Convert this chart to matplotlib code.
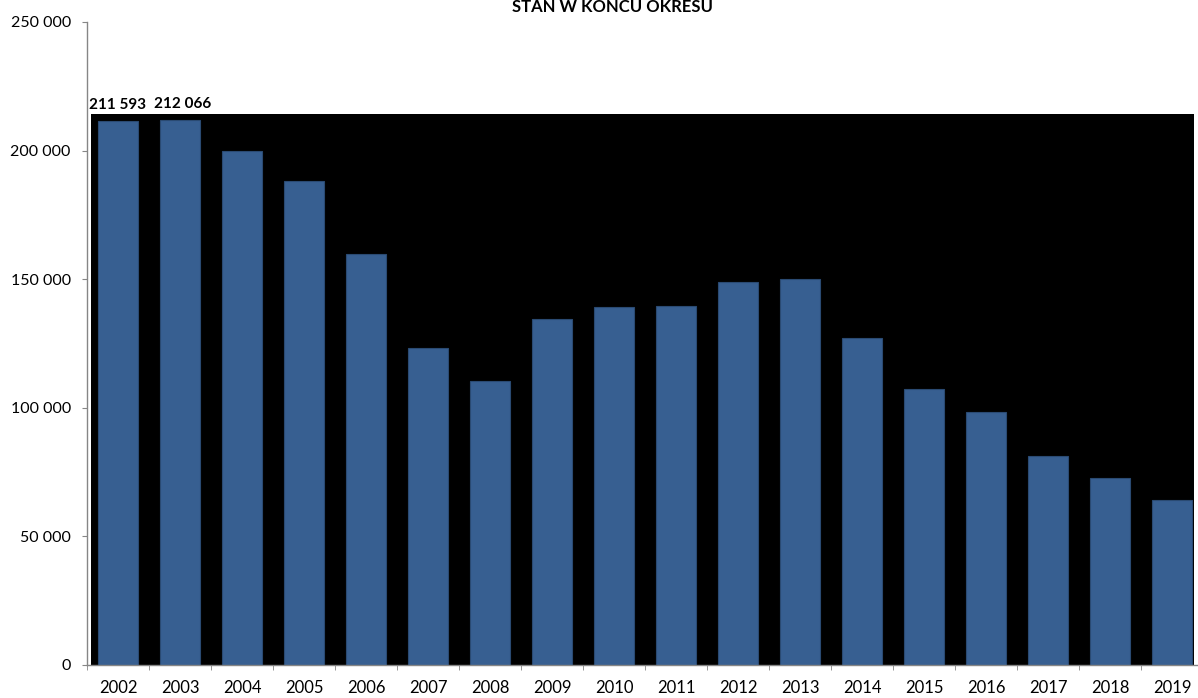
import numpy as np
import matplotlib.pyplot as plt
from matplotlib.patches import Rectangle
from matplotlib.ticker import FuncFormatter

plt.rcParams['font.family'] = ['Lato', 'DejaVu Sans']

# dane - stan w koncu okresu
years = ['2002', '2003', '2004', '2005', '2006', '2007', '2008', '2009', '2010',
         '2011', '2012', '2013', '2014', '2015', '2016', '2017', '2018', '2019']
values = [211593, 212066, 199720, 188180, 159800, 123250, 110420, 134400, 139190,
          139580, 148790, 150190, 127140, 107310, 98250, 81380, 72700, 64030]
labelled = ['2002', '2003']

fig = plt.figure(figsize=(11.98, 6.98), dpi=100)
ax = fig.add_axes([0.0726, 0.0473, 0.9316, 0.9212])

x = np.arange(len(years))

# czarne tlo obszaru wykresu
ax.add_patch(Rectangle((-0.435, 0), 17.79, 214230, facecolor='black', edgecolor='none', zorder=0))

bars = ax.bar(x, values, width=0.645, color='#375f91', edgecolor='#2a4a72', linewidth=0.8, zorder=2)

for i, (yr, v) in enumerate(zip(years, values)):
    if yr in labelled:
        ax.text(x[i] + 0.05 * i, v + 3500, f'{v:,}'.replace(',', ' '), ha='center', va='bottom',
                fontsize=11, fontweight='bold', color='black')

ax.set_xlim(-0.5, 17.5)
ax.set_ylim(0, 250000)
ax.set_yticks(np.arange(0, 250001, 50000))
ax.yaxis.set_major_formatter(FuncFormatter(lambda v, p: f'{int(v):,}'.replace(',', ' ')))
ax.set_xticks(x)
ax.set_xticklabels(years)
ax.set_xticks(np.arange(-0.5, 18, 1), minor=True)
ax.tick_params(axis='x', which='major', length=0, pad=11, labelsize=12)
ax.tick_params(axis='x', which='minor', length=3.6, color='#868686')
ax.tick_params(axis='y', length=3.6, color='#868686', labelsize=11.5, pad=8)

for s in ['top', 'right']:
    ax.spines[s].set_visible(False)
for s in ['left', 'bottom']:
    ax.spines[s].set_color('#868686')
    ax.spines[s].set_linewidth(1)
ax.set_facecolor('white')

fig.text(0.511, 0.983, 'STAN W KONCU OKRESU', ha='center', va='baseline',
         fontsize=12, fontweight='bold')

plt.savefig('out.png', dpi=100)
plt.close('all')
